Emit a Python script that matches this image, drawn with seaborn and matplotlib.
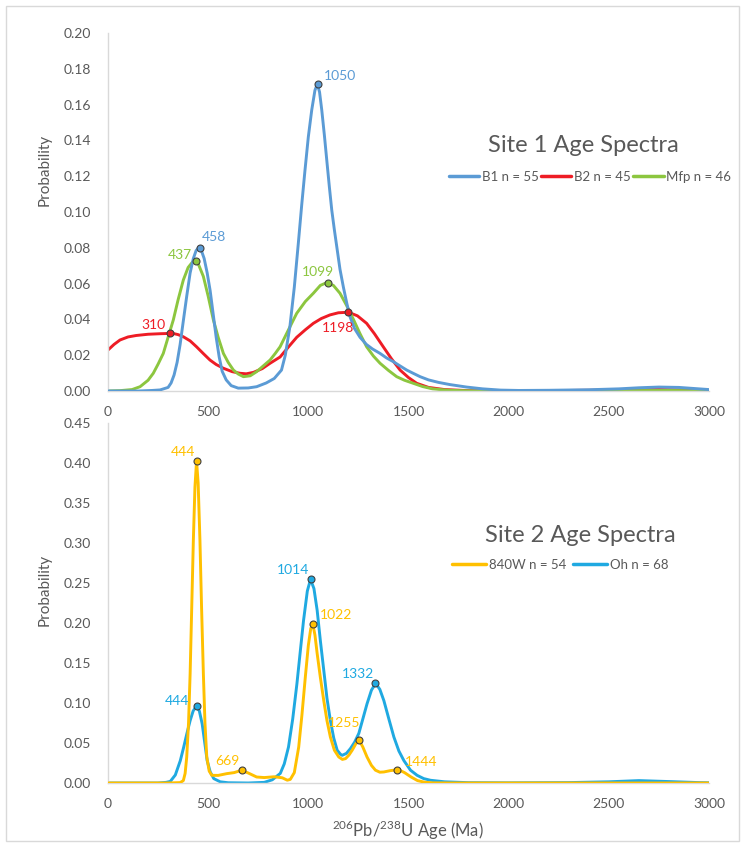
import numpy as np
import pandas as pd
import matplotlib
matplotlib.use("Agg")
import matplotlib.pyplot as plt
import seaborn as sns
from matplotlib.patches import Rectangle
from matplotlib.lines import Line2D

# ---------------- data ----------------
b1_age = [0, 150, 220, 260, 300, 315, 330, 345, 360, 377, 393, 410, 426, 440, 452, 466, 480, 495, 510, 525, 540,
          555, 570, 590, 615, 650, 700, 742, 790, 830, 866, 885, 908, 930, 950, 967, 983, 1000, 1017, 1033, 1045,
          1056, 1067, 1080, 1092, 1105, 1117, 1130, 1142, 1158, 1175, 1192, 1208, 1230, 1258, 1290, 1320,
          1358, 1390, 1424, 1458, 1491, 1525, 1558, 1600, 1650, 1706, 1790, 1870, 1960, 2050, 2200, 2400,
          2550, 2650, 2750, 2850, 2950, 3000]
b1_val = [0, 0, 0.0003, 0.0006, 0.002, 0.0045, 0.009, 0.016, 0.026, 0.04, 0.053, 0.066, 0.074, 0.0785, 0.080,
          0.0785, 0.074, 0.066, 0.056, 0.043, 0.030, 0.019, 0.011, 0.0062, 0.003, 0.0016, 0.0017, 0.0024, 0.0045,
          0.007, 0.0117, 0.02, 0.036, 0.058, 0.0825, 0.104, 0.123, 0.142, 0.157, 0.168, 0.1715, 0.167, 0.157,
          0.143, 0.129, 0.114, 0.101, 0.09, 0.0806, 0.068, 0.058, 0.049, 0.0415, 0.035, 0.030, 0.026, 0.0235,
          0.021, 0.0185, 0.0164, 0.014, 0.0117, 0.0098, 0.008, 0.0062, 0.0048, 0.0036, 0.0022, 0.0012, 0.0005,
          0.0003, 0.0004, 0.0007, 0.0012, 0.0018, 0.0022, 0.002, 0.0012, 0.0008]

b2_age = [0, 30, 60, 100, 140, 200, 260, 323, 350, 376, 410, 442, 475, 509, 540, 576, 620, 659, 690, 726, 770,
          809, 859, 900, 942, 985, 1025, 1065, 1108, 1150, 1200, 1245, 1291, 1330, 1374, 1415, 1458, 1500,
          1541, 1600, 1680, 1800, 2000, 2200, 2400, 2600, 2750, 2900, 3000]
b2_val = [0.0229, 0.026, 0.0285, 0.0302, 0.031, 0.0317, 0.032, 0.0322, 0.0315, 0.0303, 0.028, 0.0247, 0.021,
          0.0173, 0.0148, 0.0127, 0.0108, 0.0099, 0.0096, 0.0104, 0.0125, 0.0155, 0.019, 0.0245, 0.030, 0.0342,
          0.0378, 0.0405, 0.0425, 0.0437, 0.044, 0.042, 0.0378, 0.032, 0.0247, 0.018, 0.0117, 0.0075, 0.0043,
          0.002, 0.0008, 0.0002, 0.0001, 0.0002, 0.0004, 0.0007, 0.0008, 0.0005, 0.0002]

mfp_age = [0, 60, 120, 160, 200, 226, 250, 276, 300, 326, 350, 376, 400, 420, 433, 450, 476, 500, 526, 550, 576,
           600, 626, 650, 676, 710, 742, 775, 809, 835, 859, 900, 942, 985, 1025, 1060, 1091, 1125, 1158, 1190,
           1225, 1258, 1291, 1325, 1358, 1400, 1441, 1480, 1524, 1570, 1620, 1700, 1800, 2000, 2500, 2800, 3000]
mfp_val = [0, 0.0002, 0.0008, 0.0024, 0.006, 0.0099, 0.015, 0.021, 0.030, 0.0397, 0.051, 0.062, 0.069, 0.0718,
           0.0725, 0.0712, 0.064, 0.053, 0.0397, 0.030, 0.021, 0.016, 0.0117, 0.0095, 0.008, 0.0085, 0.0108,
           0.014, 0.0173, 0.021, 0.0247, 0.034, 0.0434, 0.050, 0.0546, 0.059, 0.0605, 0.059, 0.0546, 0.048,
           0.040, 0.032, 0.0247, 0.0195, 0.0155, 0.0115, 0.008, 0.006, 0.0043, 0.0025, 0.0012, 0.0004, 0.0001,
           0, 0.0002, 0.0003, 0.0001]

w840_age = [0, 300, 360, 376, 385, 393, 402, 410, 418, 426, 434, 442, 450, 459, 467, 476, 484, 493, 505, 518,
            550, 593, 630, 666, 700, 742, 780, 830, 870, 895, 910, 930, 952, 968, 985, 1000, 1012, 1022, 1033,
            1044, 1060, 1077, 1093, 1110, 1130, 1152, 1170, 1186, 1203, 1219, 1237, 1254, 1272, 1293, 1315,
            1335, 1357, 1377, 1410, 1450, 1480, 1513, 1545, 1580, 1620, 1700, 3000]
w840_val = [0, 0, 0.0005, 0.003, 0.012, 0.0325, 0.075, 0.137, 0.22, 0.303, 0.37, 0.4025, 0.375, 0.303, 0.22,
            0.137, 0.075, 0.0325, 0.015, 0.0096, 0.0095, 0.0117, 0.013, 0.0159, 0.0125, 0.0075, 0.0068, 0.0078,
            0.0065, 0.0035, 0.0045, 0.013, 0.045, 0.085, 0.1325, 0.172, 0.193, 0.199, 0.185, 0.162, 0.132,
            0.103, 0.078, 0.0575, 0.041, 0.0325, 0.0295, 0.0305, 0.035, 0.041, 0.049, 0.0534, 0.045, 0.0325,
            0.022, 0.016, 0.0135, 0.0138, 0.0155, 0.0167, 0.013, 0.0075, 0.003, 0.001, 0.0002, 0, 0]

oh_age = [0, 250, 290, 311, 336, 361, 378, 394, 410, 425, 441, 456, 470, 482, 495, 510, 528, 560, 600, 700, 780,
          820, 860, 880, 901, 922, 943, 960, 976, 995, 1011, 1028, 1044, 1060, 1077, 1093, 1110, 1127, 1144,
          1160, 1169, 1190, 1210, 1231, 1252, 1272, 1293, 1315, 1336, 1357, 1377, 1402, 1427, 1452, 1477, 1510,
          1543, 1576, 1610, 1680, 1800, 2000, 2300, 2500, 2650, 2800, 2950, 3000]
oh_val = [0, 0, 0.0008, 0.002, 0.01, 0.028, 0.045, 0.062, 0.078, 0.09, 0.096, 0.09, 0.074, 0.052, 0.028, 0.014,
          0.0055, 0.0015, 0.0003, 0, 0.0008, 0.004, 0.012, 0.024, 0.045, 0.08, 0.124, 0.165, 0.203, 0.24,
          0.2546, 0.243, 0.216, 0.178, 0.141, 0.106, 0.078, 0.056, 0.041, 0.036, 0.0346, 0.037, 0.043, 0.051,
          0.062, 0.08, 0.099, 0.116, 0.1246, 0.117, 0.103, 0.08, 0.0575, 0.04, 0.028, 0.016, 0.0096, 0.0055,
          0.0034, 0.0015, 0.0004, 0.0002, 0.0005, 0.0015, 0.003, 0.0018, 0.0005, 0.0003]

# peak markers (age label, probability)
b1_peaks = [(458, 0.080), (1050, 0.1715)]
b2_peaks = [(310, 0.0322), (1198, 0.044)]
mfp_peaks = [(437, 0.0725), (1099, 0.0605)]
w840_peaks = [(444, 0.4025), (669, 0.016), (1022, 0.199), (1255, 0.0534), (1444, 0.0167)]
oh_peaks = [(444, 0.096), (1014, 0.2546), (1332, 0.1246)]

x_ticks = [0, 500, 1000, 1500, 2000, 2500, 3000]
top_yticks = [0.00, 0.02, 0.04, 0.06, 0.08, 0.10, 0.12, 0.14, 0.16, 0.18, 0.20]
bot_yticks = [0.00, 0.05, 0.10, 0.15, 0.20, 0.25, 0.30, 0.35, 0.40, 0.45]

# ---------------- styling ----------------
sns.set_theme(style="white")
plt.rcParams['font.family'] = ['Lato', 'DejaVu Sans']
plt.rcParams['mathtext.fontset'] = 'custom'
plt.rcParams['mathtext.rm'] = 'Lato'
plt.rcParams['lines.solid_joinstyle'] = 'round'
plt.rcParams['lines.solid_capstyle'] = 'round'

TXT = '#595959'
GRID = '#D9D9D9'
C_B1 = '#5B9BD5'
C_B2 = '#EE1C25'
C_MFP = '#8CC63F'
C_840 = '#FFC000'
C_OH = '#1FA9E1'

W, H = 745, 847
fig = plt.figure(figsize=(W / 100, H / 100), dpi=100)
fig.patches.append(Rectangle((6 / W, 6 / H), 1 - 12 / W, 1 - 12 / H, transform=fig.transFigure,
                             fill=False, edgecolor=GRID, lw=1))

ax1 = fig.add_axes([108 / W, 1 - 391 / H, 601 / W, 358 / H])
ax2 = fig.add_axes([108 / W, 1 - 783 / H, 601 / W, 360 / H])


def draw(ax, age, val, color, label):
    df = pd.DataFrame({'age': age, 'p': val})
    sns.lineplot(data=df, x='age', y='p', ax=ax, color=color, lw=2.1, estimator=None, sort=False,
                 label=label, legend=False)


def peaks(ax, pk, color, offsets):
    for (a, v), (dx, dy, ha) in zip(pk, offsets):
        ax.plot([a], [v], 'o', ms=5, mfc=color, mec='#404040', mew=0.8, zorder=5)
        ax.annotate(str(a), (a, v), xytext=(dx, dy), textcoords='offset pixels', ha=ha, va='center',
                    color=color, fontsize=10)


draw(ax1, b1_age, b1_val, C_B1, 'B1 n = 55')
draw(ax1, b2_age, b2_val, C_B2, 'B2 n = 45')
draw(ax1, mfp_age, mfp_val, C_MFP, 'Mfp n = 46')
ax1.lines[0].set_zorder(3)
peaks(ax1, b1_peaks, C_B1, [(2, 11, 'left'), (6, 8, 'left')])
peaks(ax1, b2_peaks, C_B2, [(-5, 8, 'right'), (-10, -16, 'center')])
peaks(ax1, mfp_peaks, C_MFP, [(-4, 6, 'right'), (-10, 11, 'center')])

draw(ax2, w840_age, w840_val, C_840, '840W n = 54')
draw(ax2, oh_age, oh_val, C_OH, 'Oh n = 68')
ax2.lines[0].set_zorder(3)
peaks(ax2, w840_peaks, C_840, [(-2, 9, 'right'), (-3, 9, 'right'), (7, 9, 'left'), (1, 17, 'right'),
                               (8, 8, 'left')])
peaks(ax2, oh_peaks, C_OH, [(-8, 5, 'right'), (-2, 9, 'right'), (-1, 9, 'right')])

for ax, yt, ylim in [(ax1, top_yticks, 0.20), (ax2, bot_yticks, 0.45)]:
    ax.set_xlim(0, 3000)
    ax.set_ylim(0, ylim)
    ax.set_xticks(x_ticks)
    ax.set_xticklabels([str(t) for t in x_ticks])
    ax.set_yticks(yt)
    ax.set_yticklabels([f'{t:.2f}' for t in yt])
    ax.tick_params(length=0, labelcolor=TXT, labelsize=10)
    ax.tick_params(axis='y', pad=12)
    ax.tick_params(axis='x', pad=11)
    for s in ['top', 'right']:
        ax.spines[s].set_visible(False)
    for s in ['left', 'bottom']:
        ax.spines[s].set_color(GRID)
        ax.spines[s].set_linewidth(1)
    ax.set_xlabel('')
    ax.set_ylabel('')
    ax.set_facecolor('none')

fig.text(45 / W, 1 - 170 / H, 'Probability', rotation=90, ha='center', va='center', color=TXT, fontsize=11)
fig.text(45 / W, 1 - 590 / H, 'Probability', rotation=90, ha='center', va='center', color=TXT, fontsize=11)
fig.text(408 / W, 1 - 830 / H, r'$^{206}$Pb/$^{238}$U Age (Ma)', ha='center', va='center', color=TXT,
         fontsize=12)

fig.text(583 / W, 1 - 146 / H, 'Site 1 Age Spectra', ha='center', va='center', color=TXT, fontsize=17)
fig.text(580 / W, 1 - 535 / H, 'Site 2 Age Spectra', ha='center', va='center', color=TXT, fontsize=17)

h1 = [Line2D([], [], color=c, lw=2.5) for c in (C_B1, C_B2, C_MFP)]
fig.legend(h1, ['B1 n = 55', 'B2 n = 45', 'Mfp n = 46'], loc='center', bbox_to_anchor=(590 / W, 1 - 177 / H),
           ncol=3, frameon=False, fontsize=9.5, labelcolor=TXT, handlelength=2.3, handletextpad=0.2,
           columnspacing=0.2, borderpad=0, borderaxespad=0)
h2 = [Line2D([], [], color=c, lw=2.5) for c in (C_840, C_OH)]
fig.legend(h2, ['840W n = 54', 'Oh n = 68'], loc='center', bbox_to_anchor=(560 / W, 1 - 565 / H),
           ncol=2, frameon=False, fontsize=9.5, labelcolor=TXT, handlelength=2.6, handletextpad=0.2,
           columnspacing=0.5, borderpad=0, borderaxespad=0)

fig.savefig('out.png', dpi=100, facecolor='white')
